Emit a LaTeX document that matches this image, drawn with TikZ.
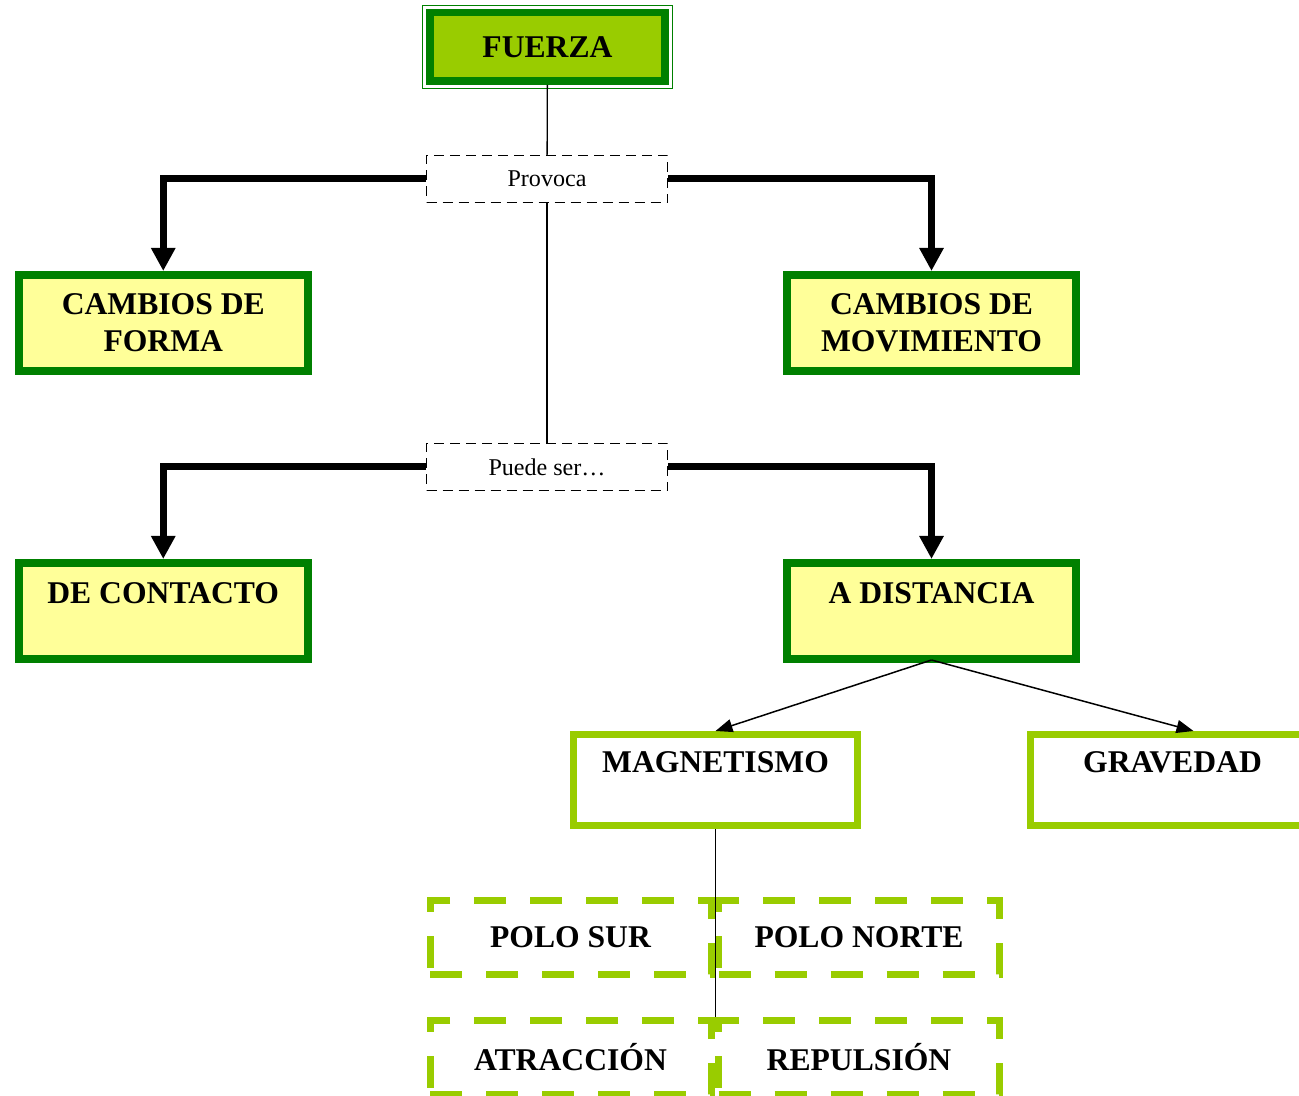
\documentclass[tikz,border=0pt]{standalone}
\usepackage{fontspec}
\setmainfont{Liberation Serif}
\usepackage{tikz}
\usetikzlibrary{arrows.meta}
\definecolor{dkgreen}{RGB}{0,128,0}
\definecolor{lime}{RGB}{153,204,0}
\definecolor{paleyellow}{RGB}{255,255,153}
\tikzstyle{title} = [draw=dkgreen,line width=0.15cm,fill=lime,
    minimum width=4.7cm,minimum height=1.37cm,
    font=\fontsize{18}{21}\selectfont\bfseries]
\tikzstyle{greenbox} = [draw=dkgreen,line width=0.16cm,fill=paleyellow,
    minimum width=5.77cm,minimum height=1.92cm,align=center,
    font=\fontsize{18}{21}\selectfont\bfseries]
\tikzstyle{limebox} = [draw=lime,line width=0.14cm,fill=white,
    minimum width=5.68cm,minimum height=1.82cm,align=center,
    font=\fontsize{18}{21}\selectfont\bfseries]
\tikzstyle{dashbox} = [draw=lime,line width=0.14cm,
    dash pattern=on 0.64cm off 0.48cm,
    minimum width=5.62cm,minimum height=1.48cm,
    font=\fontsize{18}{21}\selectfont\bfseries]
\tikzstyle{linkbox} = [draw,line width=0.026cm,
    dash pattern=on 0.2cm off 0.12cm,
    minimum width=4.82cm,minimum height=0.94cm,
    font=\fontsize{13.7}{16}\selectfont]
\tikzstyle{bigarrow} = [line width=0.14cm,->,>={Triangle[width=0.46cm,length=0.46cm]}]
\tikzstyle{arrow} = [line width=0.03cm,->,>={Triangle[width=0.26cm,length=0.34cm]}]
\tikzstyle{link} = [line width=0.026cm]
\begin{document}
\begin{tikzpicture}
    \useasboundingbox (0,0) rectangle (25.98,-21.92);
        \node (fuerza)[title] at (10.95,-0.94) {FUERZA};
        \draw [dkgreen,line width=0.026cm]
            ([shift={(-0.07,-0.07)}]fuerza.south west) rectangle
            ([shift={(0.07,0.07)}]fuerza.north east);
        \node (provoca)[linkbox] at (10.94,-3.58) {Provoca};
        \node (forma)[greenbox] at (3.265,-6.46) {CAMBIOS DE\\FORMA};
        \node (movim)[greenbox] at (18.63,-6.46) {CAMBIOS DE\\MOVIMIENTO};
        \node (puede)[linkbox] at (10.94,-9.34) {Puede ser…};
        \node (contacto)[greenbox] at (3.265,-12.22) {DE CONTACTO\\\mbox{}};
        \node (adist)[greenbox] at (18.63,-12.22) {A DISTANCIA\\\mbox{}};
        \node (magnet)[limebox] at (14.31,-15.6) {MAGNETISMO\\\mbox{}};
        \node (grav)[limebox] at (23.45,-15.6) {GRAVEDAD\\\mbox{}};
        \node (polosur)[dashbox] at (11.41,-18.74) {POLO SUR};
        \node (polonorte)[dashbox] at (17.18,-18.74) {POLO NORTE};
        \node (atrac)[dashbox] at (11.41,-21.14) {ATRACCIÓN};
        \node (repul)[dashbox] at (17.18,-21.14) {REPULSIÓN};
        % connectors
        \draw [link] (fuerza) -- (provoca);
        \draw [link] (provoca) -- (puede);
        \draw [bigarrow] (provoca.west) -| (forma.north);
        \draw [bigarrow] (provoca.east) -| (movim.north);
        \draw [bigarrow] (puede.west) -| (contacto.north);
        \draw [bigarrow] (puede.east) -| (adist.north);
        \draw [arrow] ([yshift=0.06cm]adist.south) -- (magnet.north);
        \draw [arrow] ([yshift=0.06cm]adist.south) -- ([xshift=0.42cm]grav.north);
        \draw [link] (magnet.south) -- (magnet.south |- atrac.north);
    \end{tikzpicture}
\end{document}
